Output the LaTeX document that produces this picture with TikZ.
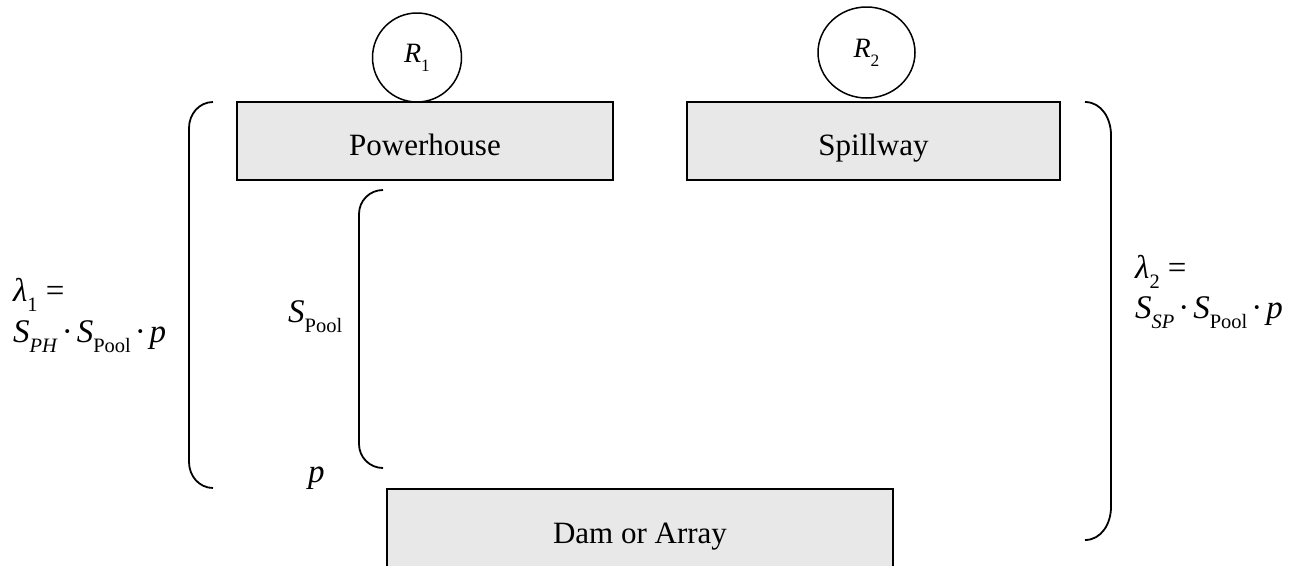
\documentclass[tikz,border=0pt]{standalone}
\usepackage{fontspec}
\setmainfont{Liberation Serif}
\usetikzlibrary{shapes.geometric}
\newcommand\sbx[1]{\raisebox{-0.32em}{\scalebox{0.62}{#1}}}
\newcommand\mi[1]{\textit{#1}}
\newcommand\cdt{\hspace{0.12em}·\hspace{0.12em}}
\tikzset{
  txt/.style={font=\fontsize{31}{37}\selectfont},
  mth/.style={font=\fontsize{33}{38}\selectfont, inner sep=0pt},
  blk/.style={draw=black, line width=2pt, fill=black!9, txt, text height=28pt, text depth=0pt},
  ring/.style={draw=black, line width=1.5pt, inner sep=0pt, font=\fontsize{28}{32}\selectfont},
  brk/.style={draw=black, line width=1.8pt},
}
\begin{document}
\begin{tikzpicture}[x=1pt, y=-1pt]
\useasboundingbox (0,0) rectangle (1298,565);
% boxes
\node[blk, minimum width=376pt, minimum height=78pt] (ph) at (425,141) {Powerhouse};
\node[blk, minimum width=373pt, minimum height=78pt] (sp) at (873.5,141) {Spillway};
\node[blk, minimum width=506pt, minimum height=80pt] (dam) at (640,529) {Dam or Array};
% circles
\node[ring, circle, minimum size=89pt] (r1) at (417,57.5) {\mi{R}\sbx{1}};
\node[ring, ellipse, minimum width=97pt, minimum height=91pt] (r2) at (866.5,52.5) {\mi{R}\sbx{2}};
% brackets
\draw[brk] (213,102) to[out=180,in=90] (189,128) -- (189,462) to[out=-90,in=180] (213,488);
\draw[brk] (383,190) to[out=180,in=90] (359,214) -- (359,444) to[out=-90,in=180] (383,468);
\draw[brk] (1085,102) to[out=0,in=90] (1111,135) -- (1111,507) to[out=-90,in=0] (1085,540);
% labels
\node[mth, anchor=base west] (l1a) at (13,301) {\mi{λ}\sbx{1} =};
\node[mth, anchor=base west] (l1b) at (13,342) {\mi{S}\sbx{\mi{PH}}\cdt\mi{S}\sbx{Pool}\cdt\mi{p}};
\node[mth, anchor=base west] (l2a) at (1135,278) {\mi{λ}\sbx{2} =};
\node[mth, anchor=base west] (l2b) at (1135,318) {\mi{S}\sbx{\mi{SP}}\cdt\mi{S}\sbx{Pool}\cdt\mi{p}};
\node[mth, anchor=base west] (spool) at (288,322) {\mi{S}\sbx{Pool}};
\node[mth, anchor=base west] (pp) at (308,482) {\mi{p}};
\end{tikzpicture}
\end{document}
